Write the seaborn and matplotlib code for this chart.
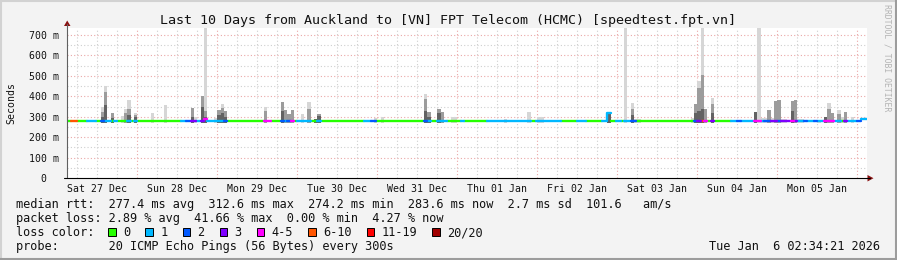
import numpy as np
import pandas as pd
import matplotlib
matplotlib.use("Agg")
import matplotlib.pyplot as plt
import seaborn as sns
from matplotlib.patches import Rectangle, Polygon
from matplotlib.lines import Line2D

# ---------------- data ----------------
title = "Last 10 Days from Auckland to [VN] FPT Telecom (HCMC) [speedtest.fpt.vn]"
day_labels = ["Sat 27 Dec", "Sun 28 Dec", "Mon 29 Dec", "Tue 30 Dec", "Wed 31 Dec",
              "Thu 01 Jan", "Fri 02 Jan", "Sat 03 Jan", "Sun 04 Jan", "Mon 05 Jan"]
day_label_hours = [12, 36, 60, 84, 108, 132, 156, 180, 204, 228]
ytick_values = [0, 100, 200, 300, 400, 500, 600, 700]
ytick_labels = ["0  ", "100 m", "200 m", "300 m", "400 m", "500 m", "600 m", "700 m"]

loss_labels = ["0", "1", "2", "3", "4-5", "6-10", "11-19", "20/20"]
loss_colors = ["#26ff00", "#00b8ff", "#0059ff", "#7e00ff", "#ff00ff", "#ff5500", "#ff0000", "#a00000"]

# hours since Sat 27 Dec 00:00
t_start, t_end = 2.9, 242.9

# loss colour segments (start hour, loss class index)
seg_start = [2.9, 4, 6, 9, 11.5, 13, 14, 16, 17, 18, 21, 22, 23, 24, 37, 38.5, 40, 41.5, 43, 44,
             45, 50, 51, 62, 64, 67, 68, 69, 70, 71, 72, 76, 78, 79, 92, 94, 95.5, 110, 111, 112,
             114, 117, 121, 122, 129, 142, 143.5, 151, 156, 158.5, 163.5, 166, 167.5, 169, 170, 172,
             173.5, 191, 192, 193, 194, 195, 196, 197, 202, 204, 205, 209, 211, 212, 214, 216, 217,
             220, 221, 222, 224, 225, 227, 228, 230, 233, 235, 236, 237, 240, 241]
seg_loss = [0, 5, 0, 1, 0, 2, 1, 0, 1, 0, 1, 0, 1, 0, 1, 2, 3, 1, 3, 4,
            1, 2, 0, 4, 0, 2, 1, 2, 4, 0, 1, 0, 1, 0, 1, 2, 0, 2, 1, 0,
            1, 0, 1, 0, 1, 0, 1, 0, 1, 0, 1, 0, 1, 0, 1, 2,
            0, 2, 3, 5, 4, 0, 3, 0, 1, 2, 1, 4, 1, 2, 3, 2, 3,
            4, 3, 1, 2, 1, 2, 1, 4, 1, 0, 3, 1, 2, 1]

# median rtt (ms) segments (start hour, value)
med_start = [2.9, 36, 37, 44, 45, 52, 53, 71, 72, 80, 81, 84, 85, 88, 89, 91, 92, 97, 98, 100,
             101, 104, 106, 117, 119, 129, 132, 135, 136, 154, 155, 157, 162, 165, 166, 241]
med_value = [277, 281, 277, 289, 277, 281, 277, 281, 277, 281, 277, 281, 277, 281, 277, 281, 277, 281, 277, 281,
             277, 281, 277, 281, 277, 280, 277, 280, 277, 281, 277, 281, 277, 316, 277, 289]

# smoke (ping spread) per hour bin
spike_hour = [13, 14, 16, 19, 20, 21, 23, 28, 32, 40, 41, 43, 44, 47, 48, 49, 50, 62, 67, 68,
              69, 70, 73, 75, 77, 78, 95, 97, 110, 111, 114, 115, 118, 119, 134, 141, 144, 145, 165, 170,
              172, 173, 174, 190, 191, 192, 193, 194, 196, 209, 210, 211, 212, 213, 214, 215, 216, 217, 218, 220,
              221, 222, 223, 228, 230, 231, 232, 234, 235, 236, 238]
spike_max = [349, 450, 317, 305, 338, 382, 317, 317, 357, 344, 300, 403, 760, 294, 333, 360, 328, 349, 370, 333,
             312, 333, 312, 370, 290, 312, 294, 297, 411, 322, 338, 322, 300, 300, 290, 322, 297, 297, 318, 760,
             365, 290, 290, 294, 360, 475, 760, 338, 390, 322, 760, 294, 294, 333, 294, 377, 382, 290, 290, 375,
             382, 290, 290, 285, 300, 368, 317, 333, 300, 322, 297]
spike_mid = [325, 422, 317, 0, 318, 340, 310, 0, 0, 344, 0, 403, 330, 0, 333, 342, 328, 328, 370, 333,
             312, 333, 0, 340, 290, 312, 0, 0, 387, 322, 338, 322, 0, 0, 0, 0, 0, 0, 318, 0,
             340, 0, 0, 0, 360, 440, 504, 338, 360, 322, 0, 0, 0, 333, 0, 377, 382, 0, 0, 375,
             382, 0, 0, 0, 300, 340, 317, 315, 0, 322, 0]
spike_dark = [300, 357, 295, 0, 0, 310, 300, 0, 0, 300, 0, 350, 300, 0, 310, 320, 300, 0, 330, 0,
              0, 0, 0, 0, 290, 305, 0, 0, 330, 300, 320, 0, 0, 0, 0, 0, 0, 0, 315, 0,
              310, 0, 0, 0, 320, 330, 340, 0, 320, 322, 0, 0, 0, 0, 0, 0, 0, 0, 0, 330,
              0, 0, 0, 0, 300, 0, 0, 0, 0, 0, 0]

legend_rtt = "median rtt:  277.4 ms avg  312.6 ms max  274.2 ms min  283.6 ms now  2.7 ms sd  101.6   am/s"
legend_loss = "packet loss: 2.89 % avg  41.66 % max  0.00 % min  4.27 % now"
legend_probe = "probe:       20 ICMP Echo Pings (56 Bytes) every 300s"
timestamp = "Tue Jan  6 02:34:21 2026"

# ---------------- style ----------------
sns.set_theme(style="white")
plt.rcParams["font.family"] = ["DejaVu Sans Mono", "DejaVu Sans"]

W, H = 897, 260
fig = plt.figure(figsize=(W / 100, H / 100), dpi=100, facecolor="#f3f3f3")


def fx(x):
    return x / W


def fy(y):
    return 1 - y / H


ax = fig.add_axes([fx(67), fy(178), 800 / W, 150 / H])
ax.set_facecolor("white")
ymax = 734.3
ax.set_xlim(t_start, t_end)
ax.set_ylim(0, ymax)
for s in ax.spines.values():
    s.set_visible(False)

# grid
minor_c, major_c = "#cfcfcf", "#eaa8a8"
for h in range(0, 246, 6):
    if t_start <= h <= t_end:
        ax.axvline(h, color=major_c if h % 24 == 0 else minor_c, lw=0.8,
                   ls=(0, (1, 2)), zorder=0)
for v in range(50, 701, 50):
    ax.axhline(v, color=major_c if v % 100 == 0 else minor_c, lw=0.8,
               ls=(0, (1, 2)), zorder=0)

# smoke
sm = pd.DataFrame({"hour": spike_hour, "max": spike_max, "mid": spike_mid, "dark": spike_dark})
base = 270
for col, colr in [("max", "#d6d6d6"), ("mid", "#9c9c9c"), ("dark", "#626262")]:
    d = sm[sm[col] > 0]
    ax.bar(d["hour"], d[col] - base, bottom=base, width=1.0, align="edge",
           color=colr, linewidth=0, zorder=2)

# median line coloured by loss
bps = sorted(set(seg_start) | set(med_start) | {t_end})
rows = []
for i in range(len(bps) - 1):
    a, b = bps[i], bps[i + 1]
    li = int(np.searchsorted(seg_start, a, side="right") - 1)
    mi = int(np.searchsorted(med_start, a, side="right") - 1)
    lab = loss_labels[seg_loss[li]]
    rows.append((a, med_value[mi], li, lab))
    rows.append((b, med_value[mi], li, lab))
med = pd.DataFrame(rows, columns=["hour", "rtt", "seg", "loss"])
sns.lineplot(data=med, x="hour", y="rtt", hue="loss", units="seg", estimator=None,
             sort=False, palette=dict(zip(loss_labels, loss_colors)), linewidth=1.7,
             legend=False, ax=ax, zorder=3)

ax.set_xlabel("")
ax.set_ylabel("")
ax.set_xticks(day_label_hours)
ax.set_xticklabels(day_labels, fontsize=7.1, color="#111111")
ax.set_yticks(ytick_values)
ax.set_yticklabels(ytick_labels, fontsize=7.1, color="#111111")
ax.tick_params(axis="both", length=0)
ax.tick_params(axis="x", pad=4.5)
ax.tick_params(axis="y", pad=5.5)

# axes lines and arrows
fig.add_artist(Line2D([fx(67), fx(67)], [fy(178), fy(24)], color="#606060", lw=0.8))
fig.add_artist(Line2D([fx(64), fx(870)], [fy(178), fy(178)], color="black", lw=0.8))
fig.add_artist(Polygon([[fx(64), fy(26)], [fx(70.5), fy(26)], [fx(67.2), fy(20.5)]],
                       closed=True, color="#8a1010", lw=0))
fig.add_artist(Polygon([[fx(867.5), fy(175)], [fx(867.5), fy(181.5)], [fx(873.5), fy(178.2)]],
                       closed=True, color="#8a1010", lw=0))

# texts
fig.text(fx(448), fy(24), title, ha="center", va="baseline", fontsize=9.6, color="#111111")
fig.text(fx(11.5), fy(103), "Seconds", rotation=90, ha="center", va="center", fontsize=7.1,
         color="#111111")
fig.text(fx(887), fy(4), "RRDTOOL / TOBI OETIKER", rotation=270, ha="center", va="top",
         fontsize=5.9, color="#b4b4b4")

lfs = 8.58
cw = 7.11
fig.text(fx(16), fy(208.3), legend_rtt, ha="left", va="baseline", fontsize=lfs, color="#111111")
fig.text(fx(16), fy(222.3), legend_loss, ha="left", va="baseline", fontsize=lfs, color="#111111")
fig.text(fx(16), fy(236.3), "loss color:", ha="left", va="baseline", fontsize=lfs, color="#111111")
fig.text(fx(16), fy(250.3), legend_probe, ha="left", va="baseline", fontsize=lfs, color="#111111")
fig.text(fx(880), fy(250.3), timestamp, ha="right", va="baseline", fontsize=lfs, color="#111111")

bx = 108.3
for lab, col in zip(loss_labels, loss_colors):
    fig.add_artist(Rectangle((fx(bx), fy(236)), 7.5 / W, 7.7 / H, facecolor=col,
                             edgecolor="black", lw=0.7))
    fig.text(fx(bx + 15), fy(236.3), lab, ha="left", va="baseline", fontsize=lfs, color="#111111")
    bx += 15 + len(lab) * cw + 15

# frame bevel
fig.add_artist(Line2D([0, 1], [fy(0.8), fy(0.8)], color="#d2d2d2", lw=1.5))
fig.add_artist(Line2D([fx(0.8), fx(0.8)], [0, 1], color="#d2d2d2", lw=1.5))
fig.add_artist(Line2D([0, 1], [fy(259), fy(259)], color="#9c9c9c", lw=1.5))
fig.add_artist(Line2D([fx(896), fx(896)], [0, 1], color="#9c9c9c", lw=1.5))

fig.savefig("out.png", dpi=100, facecolor=fig.get_facecolor())
